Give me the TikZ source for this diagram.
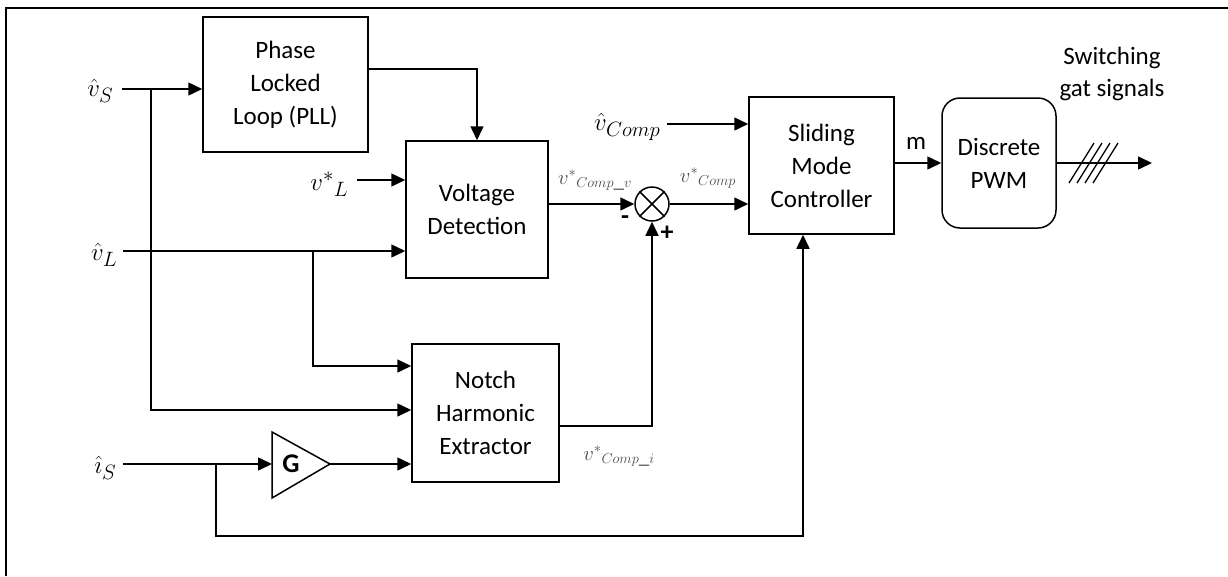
\documentclass[tikz,border=0pt]{standalone}
\usepackage{fontspec}
\setmainfont{Carlito}
\usetikzlibrary{arrows.meta,shapes.geometric}
\begin{document}
\begin{tikzpicture}[x=1pt,y=-1pt, line width=1.5pt,
  >={Triangle[length=14pt,width=13pt]},
  blk/.style={draw, rectangle, align=center, inner sep=0pt,
    font=\fontsize{25}{33}\selectfont},
  lbl/.style={inner sep=0pt, font=\fontsize{29}{32}\selectfont},
  slbl/.style={inner sep=0pt, text=black!70, font=\fontsize{21}{24}\selectfont},
  txt/.style={inner sep=0pt, align=center, font=\fontsize{25}{32}\selectfont}]
\useasboundingbox (0,0) rectangle (1228,576);
% frame (visible part)
\draw (6,576) -- (6,8) -- (1228,8);

% blocks
\node[blk, minimum width=165pt, minimum height=135pt] (pll) at (285.5,84.5) {Phase\\Locked\\Loop (PLL)};
\node[blk, minimum width=142pt, minimum height=137pt] (vd) at (477,209.5) {Voltage\\Detection};
\node[blk, minimum width=145pt, minimum height=137pt] (smc) at (821.5,165.5) {Sliding\\Mode\\Controller};
\node[blk, rounded corners=18pt, minimum width=114pt, minimum height=130pt] (pwm) at (999,163) {Discrete\\PWM};
\node[blk, minimum width=147pt, minimum height=138pt] (nhe) at (485.5,413) {Notch\\Harmonic\\Extractor};
\node[draw, circle, minimum size=34pt, inner sep=0pt] (sum) at (652,204) {};
\draw (sum.45) -- (sum.225) (sum.135) -- (sum.315);

% gain triangle
\draw (272,432) -- (330,464) -- (272,498) -- cycle;
\node[inner sep=0pt, font=\fontsize{27}{28}\selectfont\bfseries] (g) at (291,464) {G};
\coordinate (gin) at (272,464);
\coordinate (gout) at (330,464);

% input labels
\node[lbl, anchor=east] (vs) at (114,91) {$\hat{v}_S$};
\node[lbl, anchor=east] (vl) at (118,255) {$\hat{v}_L$};
\node[lbl, anchor=east] (is) at (117,468) {$\hat{\imath}_S$};
\node[lbl, anchor=east] (vlr) at (349,184) {$v^{*}{}_{L}$};
\node[lbl, anchor=east] (vcomp) at (661,127) {$\hat{v}_{Comp}$};
\node[slbl] (vcv) at (595,180) {$v^{*}{}_{Comp\_v}$};
\node[slbl] (vc) at (708,178) {$v^{*}{}_{Comp}$};
\node[slbl] (vci) at (619,456) {$v^{*}{}_{Comp\_i}$};
\node[inner sep=0pt, font=\fontsize{25}{26}\selectfont] (m) at (916,143) {m};
\node[inner sep=0pt, font=\fontsize{26}{26}\selectfont\bfseries] (minus) at (625,220) {-};
\node[inner sep=0pt, font=\fontsize{26}{26}\selectfont\bfseries] (plus) at (667,233) {+};
\node[txt] (sw) at (1112,74) {Switching\\gat signals};

% coordinates
\coordinate (vsS) at (122,89);
\coordinate (bS) at (151,89);
\coordinate (vlS) at (123,251);
\coordinate (bL) at (313,251);
\coordinate (isS) at (123,464);
\coordinate (bI) at (216,464);
\coordinate (vlrS) at (357,180);
\coordinate (vcS) at (667,124);
\coordinate (out) at (1152,163);

% connectors
\draw[->] (vsS) -- (pll.west |- vsS);
\draw[->] (bS) |- (nhe.west |- 0,410);
\draw[->] (pll.east |- 0,69) -| (vd.north);
\draw[->] (vlrS) -- (vd.west |- vlrS);
\draw[->] (vlS) -- (vd.west |- vlS);
\draw[->] (bL) |- (nhe.west |- 0,366);
\draw[->] (isS) -- (gin);
\draw[->] (gout) -- (nhe.west |- gout);
\draw[->] (bI) |- (803,536) -- (smc.south -| 803,0);
\draw[->] (vd.east |- sum) -- (sum.west);
\draw[->] (nhe.east |- 0,426) -| (sum.south);
\draw[->] (sum.east) -- (smc.west |- sum);
\draw[->] (vcS) -- (smc.west |- vcS);
\draw[->] (smc.east |- pwm) -- (pwm.west);
\draw[->] (pwm.east) -- (out);
% bus hatch
\foreach \i in {0,1,2,3}{
  \draw[line width=1.3pt] (1069+8*\i,183) -- (1094+8*\i,143);
}
\end{tikzpicture}
\end{document}
